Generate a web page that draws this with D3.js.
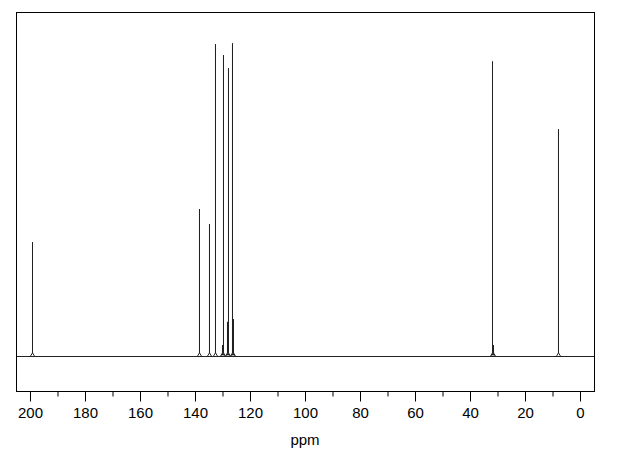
<!DOCTYPE html>
<html>
<head>
<meta charset="utf-8">
<script src="https://cdn.jsdelivr.net/npm/d3@7"></script>
<style>
  body { margin: 0; background: #fff; }
  svg { display: block; }
</style>
</head>
<body>
<svg width="624" height="459"></svg>
<script>
// peak positions (ppm) and heights (% of tallest line)
var peakPpm    = [199.3, 138.5, 134.9, 132.9, 130.2, 129.8, 128.4, 128.0, 126.4, 126.0, 32.0, 31.8, 8.1]
var peakHeight = [ 36.4,  47.0,  42.2,  99.7,   3.5,  96.2,  10.9,  92.0, 100.0,  11.8, 94.2,  3.5, 72.5]
var tickPpm = d3.range(0, 201, 10)
var labelPpm = d3.range(0, 201, 20)
var axisTitle = 'ppm'

var svg = d3.select('svg')
  , box = { left: 16, right: 594, top: 12, bottom: 391 }

var x = d3.scaleLinear().domain([205.09, -5.09]).range([box.left, box.right])
var y = d3.scaleLinear().domain([-11.2, 110]).range([box.bottom, box.top])

var peaks = peakPpm.map(function (p, i) { return { ppm: p, h: peakHeight[i] } })

// baseline
svg.append('line')
  .attr('x1', box.left).attr('x2', box.right)
  .attr('y1', Math.round(y(0)) + .5).attr('y2', Math.round(y(0)) + .5)
  .attr('stroke', '#222')

// peaks: a vertical stick with a small foot on the baseline
var line = d3.line().x(function (d) { return x(d[0]) }).y(function (d) { return y(d[1]) })
svg.append('g').selectAll('path').data(peaks).enter().append('path')
  .attr('d', function (d) {
    var p = Math.round(x(d.ppm)) + .5
    return line([[d.ppm + .7, 0], [d.ppm, 1], [d.ppm, d.h], [d.ppm, 1], [d.ppm - .7, 0]])
  })
  .attr('transform', function (d) { return 'translate(' + (Math.round(x(d.ppm)) + .5 - x(d.ppm)) + ',0)' })
  .attr('fill', 'none')
  .attr('stroke', '#222')
  .attr('stroke-width', 1)

// frame
svg.append('rect')
  .attr('x', box.left + .5).attr('y', box.top + .5)
  .attr('width', box.right - box.left).attr('height', box.bottom - box.top)
  .attr('fill', 'none').attr('stroke', '#000')

// axis
var axis = d3.axisBottom(x)
  .tickValues(tickPpm)
  .tickSize(10)
  .tickPadding(6)
  .tickFormat(function (d) { return labelPpm.indexOf(d) >= 0 ? d : '' })

var ax = svg.append('g')
  .attr('transform', 'translate(0,' + (box.bottom + .5) + ')')
  .call(axis)

ax.select('.domain').remove()
ax.selectAll('.tick line')
  .attr('stroke', '#000')
  .attr('y2', function (d) { return labelPpm.indexOf(d) >= 0 ? 10 : 5 })
ax.selectAll('.tick text')
  .attr('fill', '#000')
  .style('font-family', 'Liberation Sans, Arial, sans-serif')
  .style('font-size', '15px')

svg.append('text')
  .attr('x', (box.left + box.right) / 2)
  .attr('y', 445)
  .attr('text-anchor', 'middle')
  .style('font-family', 'Liberation Sans, Arial, sans-serif')
  .style('font-size', '15px')
  .text(axisTitle)
</script>
</body>
</html>
